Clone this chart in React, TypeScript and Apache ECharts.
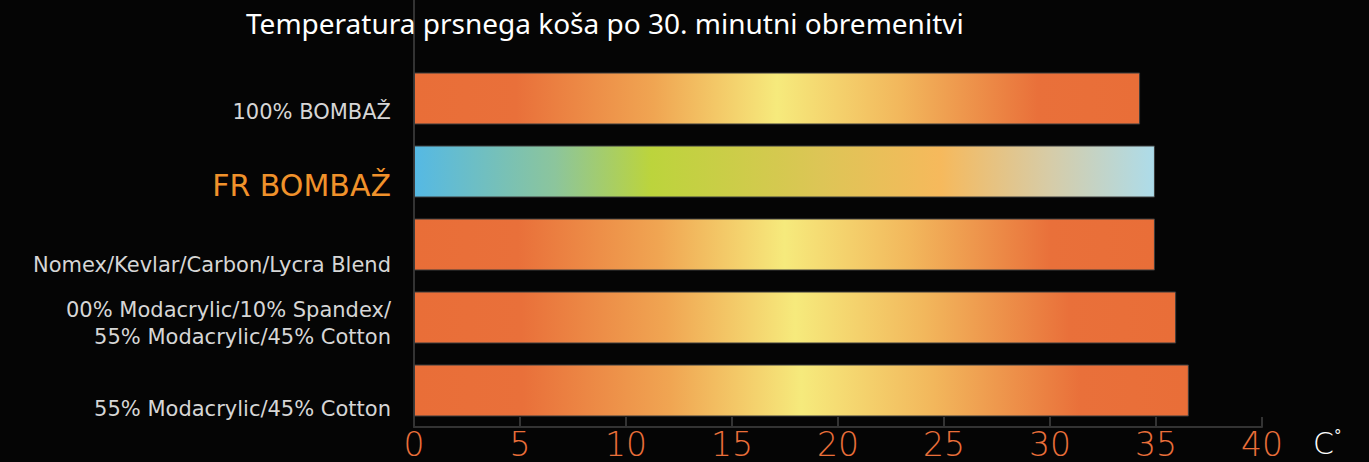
import React, { useEffect, useRef } from 'react';
import * as echarts from 'echarts';

const categories = [
  '100% BOMBAŽ',
  'FR BOMBAŽ',
  'Nomex/Kevlar/Carbon/Lycra Blend',
  '00% Modacrylic/10% Spandex/\n55% Modacrylic/45% Cotton',
  '55% Modacrylic/45% Cotton',
];
const temperatures = [34.25, 34.95, 34.95, 35.95, 36.55];
const axisMin = 0;
const axisMax = 40;
const axisStep = 5;
const highlightedCategory = 'FR BOMBAŽ';
const titleText = 'Temperatura prsnega koša po 30. minutni obremenitvi';
const unitText = 'C';

const GRID_LEFT = 414;
const GRID_RIGHT = 107;
const GRID_TOP = 62;
const GRID_BOTTOM = 35;
// vertical gap above each label (shifts the label down by half of it)
const labelGap = [27, 28, 40, 12, 37];

const orangeStops = [
  { offset: 0, color: '#E96E38' },
  { offset: 0.14, color: '#E9703A' },
  { offset: 0.33, color: '#F0A552' },
  { offset: 0.5, color: '#F6EA7C' },
  { offset: 0.67, color: '#F2B75C' },
  { offset: 0.86, color: '#E9703A' },
  { offset: 1, color: '#E96E38' },
];
const frStops = [
  { offset: 0, color: '#55B9E4' },
  { offset: 0.19, color: '#8CC59C' },
  { offset: 0.32, color: '#BCD43C' },
  { offset: 0.55, color: '#DDC556' },
  { offset: 0.71, color: '#F6B95C' },
  { offset: 0.86, color: '#D6CCA8' },
  { offset: 1, color: '#ADDCEA' },
];

export default function App() {
  const ref = useRef<HTMLDivElement>(null);
  useEffect(() => {
    if (!ref.current) return;
    const chart = echarts.init(ref.current, null, { renderer: 'svg' });
    const axisColor = '#333333';
    const rich: Record<string, any> = {
      t: { color: '#d6d6d6', fontFamily: 'DejaVu Sans', fontSize: 21, lineHeight: 27 },
      h: { color: '#F0922B', fontFamily: 'DejaVu Sans', fontSize: 30, lineHeight: 34 },
    };
    labelGap.forEach((g, i) => {
      rich['g' + i] = { fontSize: 1, lineHeight: g };
    });
    chart.setOption({
      animation: false,
      backgroundColor: '#050505',
      title: {
        text: titleText,
        left: 241,
        top: 4,
        textStyle: {
          color: '#ffffff',
          fontFamily: 'Noto Sans',
          fontWeight: 'normal',
          fontSize: 28,
        },
      },
      grid: { left: GRID_LEFT, right: GRID_RIGHT, top: GRID_TOP, bottom: GRID_BOTTOM },
      xAxis: {
        type: 'value',
        min: axisMin,
        max: axisMax,
        interval: axisStep,
        splitLine: { show: false },
        axisLine: { show: true, lineStyle: { color: axisColor, width: 2 } },
        axisTick: { show: true, inside: true, length: 10, lineStyle: { color: axisColor, width: 2 } },
        axisLabel: {
          color: '#EA6F3A',
          fontFamily: 'DejaVu Sans',
          fontWeight: 200,
          fontSize: 33,
          lineHeight: 32,
          margin: 1,
        },
      },
      yAxis: {
        type: 'category',
        inverse: true,
        data: categories,
        axisLine: { show: true, lineStyle: { color: axisColor, width: 2 } },
        axisTick: { show: false },
        axisLabel: {
          margin: 23,
          align: 'right',
          formatter: (value: string, index: number) => {
            const key = value === highlightedCategory ? 'h' : 't';
            const lines = value.split('\n').map((l) => '{' + key + '|' + l + '}');
            return '{g' + index + '| }\n' + lines.join('\n');
          },
          rich,
        },
      },
      series: [
        {
          type: 'bar',
          barWidth: 52,
          data: temperatures.map((v, i) => ({
            value: v,
            itemStyle: {
              color: new echarts.graphic.LinearGradient(
                0, 0, 1, 0,
                categories[i] === highlightedCategory ? frStops : orangeStops
              ),
              borderColor: '#3c3c3c',
              borderWidth: 1,
            },
          })),
        },
      ],
      graphic: [
        {
          type: 'line',
          shape: { x1: GRID_LEFT, y1: 0, x2: GRID_LEFT, y2: GRID_TOP },
          style: { stroke: axisColor, lineWidth: 2 },
        },
        {
          type: 'text',
          left: 1313,
          top: 428,
          style: {
            text: '{c|' + unitText + '}{d|°}',
            rich: {
              c: { fill: '#ffffff', fontFamily: 'DejaVu Sans', fontWeight: 200, fontSize: 30 },
              d: { fill: '#ffffff', fontFamily: 'DejaVu Sans', fontSize: 15, verticalAlign: 'top', padding: [0, 0, 12, 0] },
            },
          },
        },
      ],
    });
    return () => chart.dispose();
  }, []);
  return (
    <div
      ref={ref}
      style={{ position: 'absolute', left: 0, top: 0, width: 1369, height: 462 }}
    />
  );
}
